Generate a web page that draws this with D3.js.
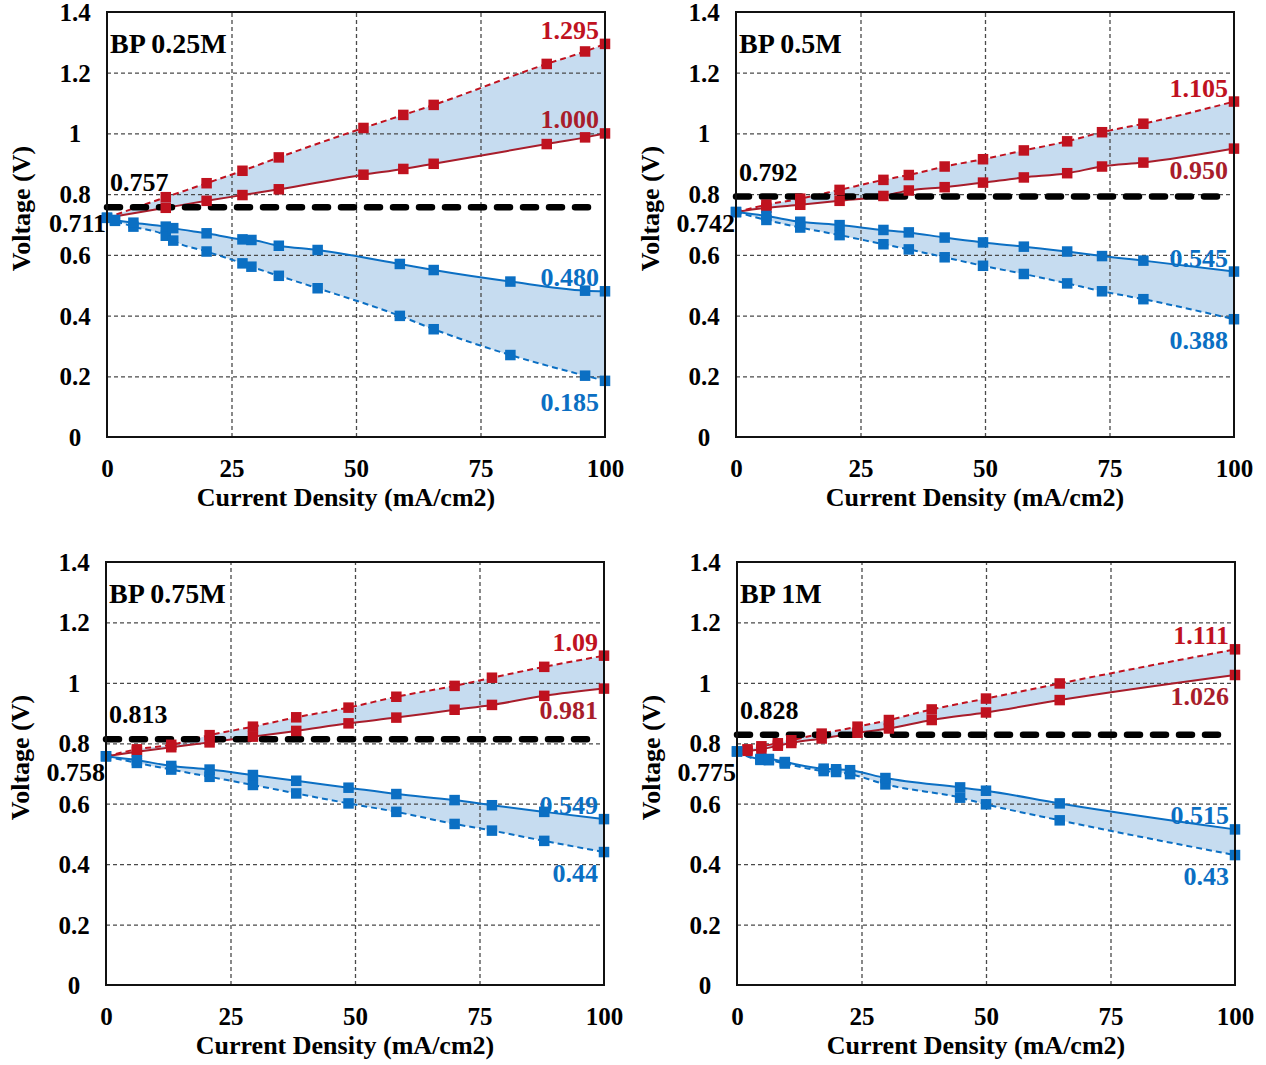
<!DOCTYPE html>
<html>
<head>
<meta charset="utf-8">
<script src="https://cdn.jsdelivr.net/npm/d3@7"></script>
<style>
body { margin: 0; background: #fff; }
svg text { font-family: "Liberation Serif", "Times New Roman", serif; font-weight: bold; }
</style>
</head>
<body>
<svg id="chart" width="1266" height="1065"></svg>
<script>
// ---- data ----
var panelTitles = ["BP 0.25M", "BP 0.5M", "BP 0.75M", "BP 1M"];
var startValues = [0.722, 0.741, 0.757, 0.773];
var startLabels = ["0.711", "0.742", "0.758", "0.775"];
var thresholdValues = [0.757, 0.792, 0.813, 0.828];
var thresholdLabels = ["0.757", "0.792", "0.813", "0.828"];

var redX = [
    [11.8, 20, 27.2, 34.5, 51.5, 59.5, 65.6, 88.3, 96, 100],
    [6.1, 12.9, 20.8, 29.6, 34.7, 41.9, 49.6, 57.8, 66.5, 73.5, 81.8, 100],
    [6.2, 13.1, 20.8, 29.5, 38.2, 48.7, 58.3, 70, 77.5, 88, 100],
    [2.1, 4.9, 8.2, 10.9, 17, 24.2, 30.5, 39.1, 50, 64.8, 100]
];
var redDashed = [
    [0.790, 0.836, 0.877, 0.921, 1.018, 1.061, 1.094, 1.229, 1.270, 1.295],
    [0.765, 0.785, 0.814, 0.847, 0.863, 0.891, 0.915, 0.944, 0.974, 1.004, 1.032, 1.105],
    [0.780, 0.795, 0.827, 0.855, 0.886, 0.918, 0.954, 0.990, 1.017, 1.053, 1.090],
    [0.780, 0.790, 0.800, 0.810, 0.832, 0.855, 0.877, 0.912, 0.948, 0.998, 1.111]
];
var redSolid = [
    [0.755, 0.778, 0.797, 0.816, 0.864, 0.883, 0.900, 0.965, 0.987, 1.000],
    [0.755, 0.765, 0.778, 0.794, 0.812, 0.823, 0.838, 0.855, 0.869, 0.891, 0.904, 0.950],
    [0.772, 0.787, 0.803, 0.822, 0.841, 0.866, 0.885, 0.911, 0.927, 0.957, 0.981],
    [0.775, 0.780, 0.792, 0.801, 0.816, 0.835, 0.849, 0.877, 0.902, 0.943, 1.026]
];
var blueX = [
    [1.6, 5.3, 11.8, 13.3, 20, 27.2, 29, 34.5, 42.3, 58.8, 65.6, 81, 96, 100],
    [6.1, 12.9, 20.8, 29.6, 34.7, 41.9, 49.6, 57.8, 66.5, 73.5, 81.8, 100],
    [6.2, 13.1, 20.8, 29.5, 38.2, 48.7, 58.3, 70, 77.5, 88, 100],
    [4.7, 6.4, 9.6, 17.4, 19.9, 22.7, 29.8, 44.8, 50, 64.8, 100]
];
var blueSolid = [
    [0.715, 0.706, 0.693, 0.688, 0.671, 0.651, 0.649, 0.630, 0.616, 0.570, 0.550, 0.512, 0.482, 0.480],
    [0.728, 0.709, 0.698, 0.682, 0.674, 0.657, 0.641, 0.627, 0.611, 0.596, 0.581, 0.545],
    [0.744, 0.725, 0.713, 0.695, 0.676, 0.653, 0.632, 0.612, 0.595, 0.573, 0.549],
    [0.748, 0.748, 0.738, 0.716, 0.714, 0.711, 0.685, 0.654, 0.643, 0.601, 0.515]
];
var blueDashed = [
    [0.712, 0.693, 0.663, 0.647, 0.611, 0.572, 0.561, 0.531, 0.490, 0.399, 0.355, 0.270, 0.202, 0.185],
    [0.715, 0.690, 0.665, 0.635, 0.618, 0.592, 0.564, 0.537, 0.506, 0.480, 0.454, 0.388],
    [0.735, 0.713, 0.689, 0.662, 0.634, 0.601, 0.573, 0.533, 0.511, 0.477, 0.440],
    [0.745, 0.744, 0.733, 0.708, 0.705, 0.698, 0.664, 0.620, 0.598, 0.545, 0.430]
];
var redDashedEnd = ["1.295", "1.105", "1.09", "1.111"];
var redSolidEnd = ["1.000", "0.950", "0.981", "1.026"];
var blueSolidEnd = ["0.480", "0.545", "0.549", "0.515"];
var blueDashedEnd = ["0.185", "0.388", "0.44", "0.43"];

var xTicks = [0, 25, 50, 75, 100];
var yTicks = [0, 0.2, 0.4, 0.6, 0.8, 1, 1.2, 1.4];
var yTickLabels = ["0", "0.2", "0.4", "0.6", "0.8", "1", "1.2", "1.4"];

// ---- layout ----
var plotLefts = [107, 736, 106, 737];
var plotTops = [12, 12, 562, 562];
var plotHeights = [425, 425, 423, 423];
var plotW = 498;

var redC = "#c0121f", redDarkC = "#a81d2b", blueC = "#0b6fc3", fillC = "#c6dcf0";

var svg = d3.select("#chart");

function zip(xs, start, vs) {
    var out = [[0, start]];
    xs.forEach(function(d, i) { out.push([d, vs[i]]); });
    return out;
}

function drawPanel(i) {
    var h = plotHeights[i];
    var g = svg.append("g")
        .attr("transform", "translate(" + plotLefts[i] + "," + plotTops[i] + ")");

    var x = d3.scaleLinear().domain([0, 100]).range([0, plotW]);
    var y = d3.scaleLinear().domain([0, 1.4]).range([h, 0]);

    var rd = zip(redX[i], startValues[i], redDashed[i]);
    var rs = zip(redX[i], startValues[i], redSolid[i]);
    var bs = zip(blueX[i], startValues[i], blueSolid[i]);
    var bd = zip(blueX[i], startValues[i], blueDashed[i]);

    // shaded bands
    var area = d3.area().curve(d3.curveMonotoneX)
        .x(function(d) { return x(d[0]); })
        .y0(function(d) { return y(d[1]); })
        .y1(function(d) { return y(d[2]); });
    g.append("path")
        .datum(rd.map(function(d, k) { return [d[0], d[1], rs[k][1]]; }))
        .attr("d", area).attr("fill", fillC);
    g.append("path")
        .datum(bs.map(function(d, k) { return [d[0], d[1], bd[k][1]]; }))
        .attr("d", area).attr("fill", fillC);

    // grid
    g.append("g")
        .call(d3.axisLeft(y).tickValues([0.2, 0.4, 0.6, 0.8, 1, 1.2]).tickSize(-plotW).tickFormat(""))
        .call(function(a) { a.select(".domain").remove(); })
        .selectAll("line").attr("stroke", "#4a4a4a").attr("stroke-width", 1.3).attr("stroke-dasharray", "4,3");
    g.append("g")
        .attr("transform", "translate(0," + h + ")")
        .call(d3.axisBottom(x).tickValues([25, 50, 75]).tickSize(-h).tickFormat(""))
        .call(function(a) { a.select(".domain").remove(); })
        .selectAll("line").attr("stroke", "#4a4a4a").attr("stroke-width", 1.3).attr("stroke-dasharray", "4,3");

    // axes labels
    var ya = g.append("g")
        .call(d3.axisLeft(y).tickValues(yTicks).tickSize(0)
            .tickFormat(function(d, k) { return yTickLabels[k]; }));
    ya.select(".domain").remove();
    ya.selectAll("text")
        .attr("x", -32).attr("dy", "0.34em")
        .attr("text-anchor", "middle")
        .attr("fill", "#000")
        .style("font-size", "25px");

    var xa = g.append("g")
        .attr("transform", "translate(0," + h + ")")
        .call(d3.axisBottom(x).tickValues(xTicks).tickSize(0));
    xa.select(".domain").remove();
    xa.selectAll("text")
        .attr("y", 40).attr("dy", 0)
        .attr("fill", "#000")
        .style("font-size", "25px");

    g.append("text")
        .attr("x", 239).attr("y", h + 69)
        .attr("text-anchor", "middle")
        .style("font-size", "26px")
        .text("Current Density (mA/cm2)");

    g.append("text")
        .attr("transform", "translate(-77," + (h / 2 - 16) + ") rotate(-90)")
        .attr("text-anchor", "middle")
        .style("font-size", "26px")
        .text("Voltage (V)");

    // series lines
    var line = d3.line().curve(d3.curveMonotoneX)
        .x(function(d) { return x(d[0]); })
        .y(function(d) { return y(d[1]); });

    g.append("path").datum(rs).attr("d", line)
        .attr("fill", "none").attr("stroke", redDarkC).attr("stroke-width", 2);
    g.append("path").datum(rd).attr("d", line)
        .attr("fill", "none").attr("stroke", redC).attr("stroke-width", 2).attr("stroke-dasharray", "6,4");
    g.append("path").datum(bs).attr("d", line)
        .attr("fill", "none").attr("stroke", blueC).attr("stroke-width", 2);
    g.append("path").datum(bd).attr("d", line)
        .attr("fill", "none").attr("stroke", blueC).attr("stroke-width", 2).attr("stroke-dasharray", "6,4");

    // threshold
    g.append("line")
        .attr("x1", x(0)).attr("x2", x(98))
        .attr("y1", y(thresholdValues[i])).attr("y2", y(thresholdValues[i]))
        .attr("stroke", "#000").attr("stroke-width", 6.5)
        .attr("stroke-dasharray", "13,13").attr("stroke-linecap", "round");

    // markers
    var ms = 10.5;
    function markers(data, color) {
        g.append("g").selectAll("rect").data(data).enter().append("rect")
            .attr("x", function(d) { return x(d[0]) - ms / 2; })
            .attr("y", function(d) { return y(d[1]) - ms / 2; })
            .attr("width", ms).attr("height", ms)
            .attr("fill", color);
    }
    markers(rs.slice(1), redC);
    markers(rd.slice(1), redC);
    markers(bd, blueC);
    markers(bs, blueC);

    // frame
    g.append("rect")
        .attr("width", plotW).attr("height", h)
        .attr("fill", "none").attr("stroke", "#111").attr("stroke-width", 2);

    // texts
    g.append("text")
        .attr("x", 3).attr("y", 41)
        .style("font-size", "28px")
        .text(panelTitles[i]);

    g.append("text")
        .attr("x", 3).attr("y", y(thresholdValues[i]) - 16)
        .style("font-size", "26px")
        .text(thresholdLabels[i]);

    g.append("text")
        .attr("x", -1).attr("y", y(0.705) + 9)
        .attr("text-anchor", "end")
        .style("font-size", "26px")
        .text(startLabels[i]);

    function endLabel(val, txt, color, below) {
        g.append("text")
            .attr("x", plotW - 6)
            .attr("y", y(val) + (below ? 30 : -5))
            .attr("text-anchor", "end")
            .attr("fill", color)
            .style("font-size", "26px")
            .text(txt);
    }
    var n = redX[i].length - 1, m = blueX[i].length - 1;
    endLabel(redDashed[i][n], redDashedEnd[i], redC, false);
    endLabel(redSolid[i][n], redSolidEnd[i], redDarkC, i > 0);
    endLabel(blueSolid[i][m], blueSolidEnd[i], blueC, false);
    endLabel(blueDashed[i][m], blueDashedEnd[i], blueC, true);
}

for (var i = 0; i < 4; i++) drawPanel(i);
</script>
</body>
</html>
